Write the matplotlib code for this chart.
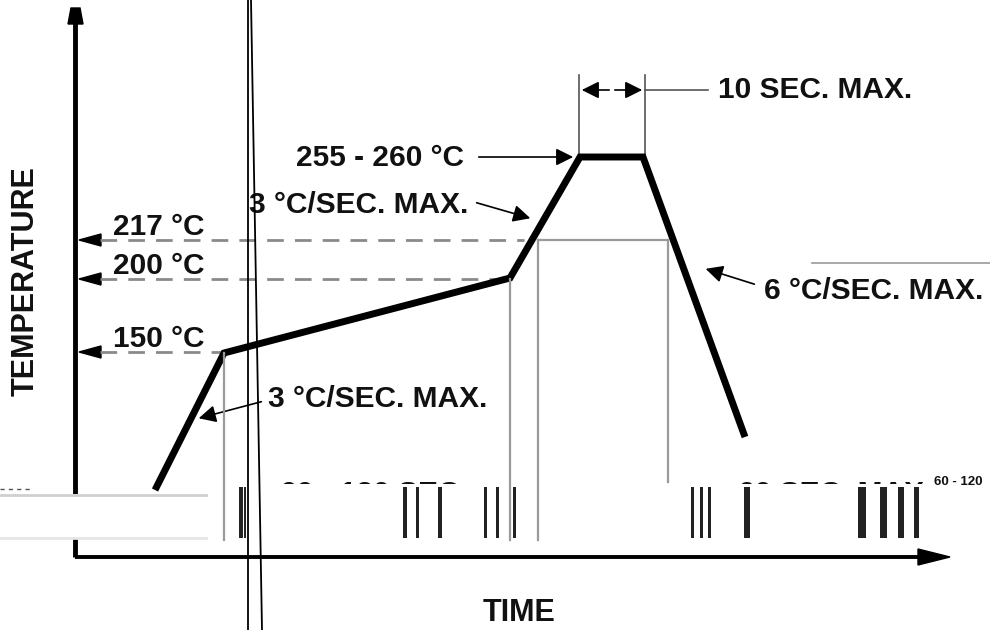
import matplotlib
matplotlib.use("Agg")
import matplotlib.pyplot as plt
from matplotlib.patches import Rectangle, Polygon

plt.rcParams['font.family'] = ['Liberation Sans', 'DejaVu Sans']

# ---- schematic data (positions, pixel-like units) ----
profile_time = [155, 224, 510, 580, 643, 745]
profile_temp = [490, 353, 278, 157, 157, 437]

level_labels = ["217 °C", "200 °C", "150 °C"]
level_y = [240, 279, 352]
level_end_x = [524, 507, 222]

zone_x = [224, 510, 538, 668]          # gray vertical zone lines
zone_top = [353, 279, 240, 240]
zone_bottom = [540, 540, 540, 482]

peak_label = "255 - 260 °C"
peak_time_label = "10 SEC. MAX."
ramp_up_label = "3 °C/SEC. MAX."
ramp_down_label = "6 °C/SEC. MAX."
soak_label = "60 - 120 SEC."
liquidus_label = "60 SEC. MAX."
extra_label = "60 - 120"
x_title = "TIME"
y_title = "TEMPERATURE"

W, H = 990, 630
fig = plt.figure(figsize=(W / 100, H / 100), dpi=100)
ax = fig.add_axes([0, 0, 1, 1])
ax.set_xlim(0, W)
ax.set_ylim(H, 0)
ax.axis('off')

FS = 21.5
txt = dict(fontsize=FS, fontweight='bold', color='#111111')
arw = dict(arrowstyle='-|>', color='black', lw=1.2, mutation_scale=26)

# axes with arrows
ax.plot([75, 75], [557, 22], color='black', lw=3.5, solid_capstyle='butt', zorder=4)
ax.add_patch(Polygon([[68, 24], [83, 24], [80, 8], [71, 8]], closed=True, color='black'))
ax.plot([75, 922], [557, 557], color='black', lw=2.8, solid_capstyle='butt')
ax.add_patch(Polygon([[918, 549], [918, 565], [950, 557]], closed=True, color='black'))

# gray zone lines
for zx, zt, zb in zip(zone_x, zone_top, zone_bottom):
    ax.plot([zx, zx], [zt, zb], color='#9a9a9a', lw=1.6, zorder=6)
ax.plot([538, 668], [240, 240], color='#9a9a9a', lw=1.6)
ax.plot([812, 990], [263, 263], color='#9a9a9a', lw=1.2)

# dashed temperature levels with arrows to the y axis
for lab, ly, ex in zip(level_labels, level_y, level_end_x):
    ax.plot([100, ex], [ly, ly], color='#8a8a8a', lw=2, dashes=(6, 4))
    ax.add_patch(Polygon([[79, ly], [101, ly - 6], [101, ly + 6]], closed=True, color='black'))
    ax.text(113, ly - 5, lab, ha='left', va='baseline', **txt)

# profile line
ax.plot(profile_time, profile_temp, color='black', lw=5, solid_joinstyle='miter',
        solid_capstyle='butt', zorder=4)

# 10 sec dimension
ax.plot([579, 579], [75, 157], color='#555555', lw=1.2)
ax.plot([645, 645], [75, 157], color='#555555', lw=1.2)
ax.annotate('', xy=(579, 90), xytext=(612, 90), arrowprops=arw)
ax.annotate('', xy=(645, 90), xytext=(612, 90), arrowprops=arw)
ax.plot([645, 708], [90, 90], color='#555555', lw=1.2)
ax.text(718, 90, peak_time_label, ha='left', va='center', **txt)

# peak label
ax.text(296, 158, peak_label, ha='left', va='center', **txt)
ax.annotate('', xy=(576, 157), xytext=(476, 157), arrowprops=arw)

# upper ramp label
ax.text(249, 205, ramp_up_label, ha='left', va='center', **txt)
ax.annotate('', xy=(533, 219), xytext=(474, 202), arrowprops=arw)

# lower ramp label
ax.text(268, 399, ramp_up_label, ha='left', va='center', **txt)
ax.annotate('', xy=(196, 419), xytext=(264, 401), arrowprops=arw)

# ramp down label
ax.text(764, 291, ramp_down_label, ha='left', va='center', **txt)
ax.annotate('', xy=(703, 268), xytext=(757, 285), arrowprops=arw)

# bottom zone labels (only their top edge survives in the reference)
ax.text(280, 494, soak_label, ha='left', va='center', zorder=3, **txt)
ax.text(738, 494, liquidus_label, ha='left', va='center', zorder=3, **txt)
ax.add_patch(Rectangle((262, 484), 728, 56, facecolor='white', edgecolor='none', zorder=5))
ax.text(934, 482, extra_label, ha='left', va='center', zorder=6, fontsize=9.5,
        fontweight='bold', color='#111111')

# artifact band on the left (white strip with gray edges)
ax.add_patch(Rectangle((0, 494), 206, 45, facecolor='white', edgecolor='none', zorder=5))
ax.plot([0, 206], [495, 495], color='#d0d0d0', lw=2, zorder=6)
ax.plot([0, 206], [538, 538], color='#e6e6e6', lw=2, zorder=6)
ax.plot([0, 30], [489, 489], color='#555555', lw=1, dashes=(3, 3), zorder=6)

# stretched glyph remnants along the bottom band
for bx, bw in [(239, 4), (244, 2), (403, 4), (416, 3), (438, 4), (484, 3), (496, 3), (513, 3),
               (691, 3), (700, 3), (708, 3), (744, 6), (858, 8), (880, 7), (898, 6), (914, 5)]:
    ax.add_patch(Rectangle((bx, 487), bw, 51, facecolor='#222222', edgecolor='none', zorder=6))

# axis titles
ax.text(519, 613, x_title, ha='center', va='center', fontsize=22, fontweight='bold',
        color='#111111')
ax.text(26, 281, y_title, ha='center', va='center', rotation=90, fontsize=22,
        fontweight='bold', color='#111111')

# stray vertical lines across the picture
ax.plot([248, 248], [0, 630], color='black', lw=1.3, zorder=7)
ax.plot([251, 262], [0, 630], color='black', lw=1.3, zorder=7)

fig.savefig('out.png', dpi=100)
